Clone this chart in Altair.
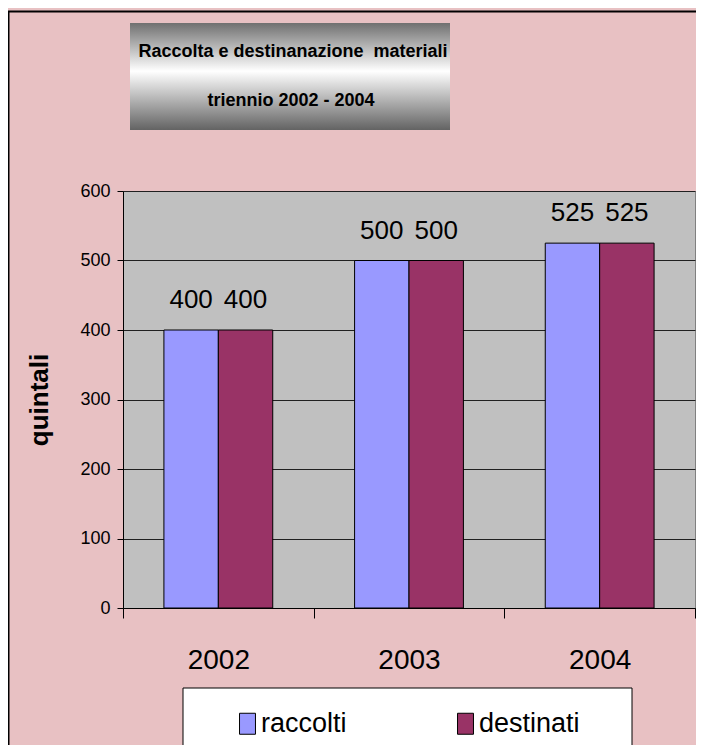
import altair as alt
import pandas as pd

# ---- data ----
years = ["2002", "2003", "2004"]
raccolti = [400, 500, 525]
destinati = [400, 500, 525]
series = ["raccolti", "destinati"]
series_colors = ["#9999ff", "#993366"]
y_ticks = [0, 100, 200, 300, 400, 500, 600]
title_lines = ["Raccolta e destinanazione\u00a0 materiali", "triennio 2002 - 2004"]
y_title = "quintali"

rows = []
for i, yr in enumerate(years):
    rows.append({"anno": yr, "serie": "raccolti", "valore": raccolti[i]})
    rows.append({"anno": yr, "serie": "destinati", "valore": destinati[i]})
df = pd.DataFrame(rows)

FONT = "Liberation Sans, Arial, sans-serif"
W, H = 572, 417
PINK = "#e8c1c3"

x_enc = alt.X(
    "anno:N", sort=years,
    scale=alt.Scale(paddingInner=0, paddingOuter=0),
    axis=alt.Axis(title=None, labelAngle=0, labelFontSize=28, labelFont=FONT,
                  labelColor="black", tickBand="extent", tickSize=10,
                  tickColor="black", domainColor="black", labelPadding=28,
                  grid=False),
)
xo_enc = alt.XOffset("serie:N", sort=series,
                     scale=alt.Scale(paddingInner=0, paddingOuter=0.752))
y_enc = alt.Y(
    "valore:Q",
    scale=alt.Scale(domain=[0, 600], nice=False),
    axis=alt.Axis(values=y_ticks, title=y_title, labelFontSize=18, labelFont=FONT,
                  labelColor="black", tickSize=6, tickColor="black",
                  domainColor="black", labelPadding=7, gridColor="#202020",
                  titleFont=FONT, titleFontSize=26, titleFontWeight="bold",
                  titleColor="black", titlePadding=27),
)
color_enc = alt.Color(
    "serie:N", sort=series,
    scale=alt.Scale(domain=series, range=series_colors),
    legend=alt.Legend(
        orient="none", legendX=111, legendY=519, direction="horizontal",
        title=None, symbolType="M-0.76,-1H0.76V1H-0.76Z", symbolSize=441,
        symbolStrokeColor="black", symbolStrokeWidth=1, symbolOpacity=1,
        labelFontSize=27, labelFont=FONT, labelColor="black",
        columnPadding=105, labelOffset=0, padding=0,
    ),
)

one = pd.DataFrame({"k": [0]})

frame_top = alt.Chart(one).mark_rule(color="black", strokeWidth=2).encode(
    x=alt.value(-115), x2=alt.value(W + 10), y=alt.value(-179.5))
frame_left = alt.Chart(one).mark_rule(color="black", strokeWidth=2).encode(
    x=alt.value(-114.5), y=alt.value(-180), y2=alt.value(H + 140))

title_box = alt.Chart(one).mark_rect(
    fill=alt.Gradient(
        gradient="linear", x1=0, x2=0, y1=0, y2=1,
        stops=[alt.GradientStop(offset=0, color="#707070"),
               alt.GradientStop(offset=0.45, color="#ffffff"),
               alt.GradientStop(offset=1, color="#636363")],
    )
).encode(x=alt.value(7), x2=alt.value(327), y=alt.value(-168), y2=alt.value(-61))

title1 = alt.Chart(pd.DataFrame({"t": [title_lines[0]]})).mark_text(
    font=FONT, fontSize=18, fontWeight="bold", color="black",
    align="center", baseline="alphabetic",
).encode(x=alt.value(170), y=alt.value(-134), text="t:N")
title2 = alt.Chart(pd.DataFrame({"t": [title_lines[1]]})).mark_text(
    font=FONT, fontSize=18, fontWeight="bold", color="black",
    align="center", baseline="alphabetic",
).encode(x=alt.value(168), y=alt.value(-85), text="t:N")

legend_box = alt.Chart(one).mark_rect(fill="white", stroke="black", strokeWidth=1).encode(
    x=alt.value(60), x2=alt.value(509), y=alt.value(497), y2=alt.value(580))

bars = alt.Chart(df).mark_bar(stroke="black", strokeWidth=1, opacity=1).encode(
    x=x_enc, xOffset=xo_enc, y=y_enc, color=color_enc)

labels = alt.Chart(df).mark_text(
    font=FONT, fontSize=26, color="black", dy=-22, baseline="alphabetic",
    align="center",
).encode(x=x_enc, xOffset=xo_enc, y=y_enc, text="valore:Q")

chart = alt.layer(
    frame_top, frame_left, title_box, title1, title2, legend_box, bars, labels
).properties(
    width=W, height=H,
    autosize=alt.AutoSizeParams(type="none"),
    padding={"left": 115, "top": 183, "right": 1, "bottom": 137},
    background=PINK,
).configure_view(
    fill="#c0c0c0", stroke="#808080", strokeWidth=1,
)

chart.save("out.html", embed_options={"renderer": "svg", "actions": False})
